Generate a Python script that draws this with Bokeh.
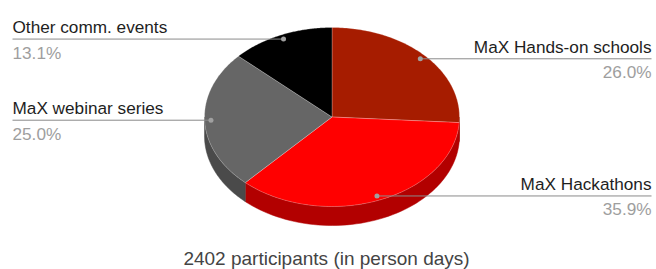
import math
from bokeh.plotting import figure
from bokeh.models import Range1d, ColumnDataSource
from bokeh.core.properties import value
from bokeh.embed import file_html
from bokeh.resources import INLINE

# ---- data ----
labels = ["MaX Hands-on schools", "MaX Hackathons", "MaX webinar series", "Other comm. events"]
shares = [26.0, 35.9, 25.0, 13.1]          # percent of person days
pct_labels = ["26.0%", "35.9%", "25.0%", "13.1%"]
title_text = "2402 participants (in person days)"

top_colors = ["#a61c00", "#ff0000", "#666666", "#000000"]
side_colors = ["#7a1400", "#b20000", "#4a4a4a", "#000000"]
label_side = ["right", "right", "left", "left"]

# ---- layout (image pixel coordinates) ----
cx, cy, rx, ry, depth = 331.5, 116.5, 127.5, 89.5, 19.0
dot_r = 0.95
left_x, right_x = 12, 651


def pt(theta_deg, r=1.0):
    t = math.radians(theta_deg)
    return cx + r * rx * math.sin(t), cy - r * ry * math.cos(t)


def arc(a1, a2, n=80):
    xs, ys = [], []
    for k in range(n + 1):
        x, y = pt(a1 + (a2 - a1) * k / n)
        xs.append(x)
        ys.append(y)
    return xs, ys


total = sum(shares)
starts, ends = [], []
acc = 0.0
for s in shares:
    starts.append(acc / total * 360.0)
    acc += s
    ends.append(acc / total * 360.0)

p = figure(width=656, height=269, output_backend="svg", toolbar_location=None,
           x_range=Range1d(0, 656), y_range=Range1d(269, 0),
           min_border=0)
p.axis.visible = False
p.grid.visible = False
p.outline_line_color = None
p.background_fill_color = "white"

# sides (front half only: 90..270 degrees)
side_xs, side_ys, side_c = [], [], []
for a1, a2, c in zip(starts, ends, side_colors):
    b1, b2 = max(a1, 90.0), min(a2, 270.0)
    if b2 > b1:
        xs, ys = arc(b1, b2, 60)
        side_xs.append(xs + xs[::-1])
        side_ys.append(ys + [y + depth for y in ys[::-1]])
        side_c.append(c)
p.patches(xs=side_xs, ys=side_ys, fill_color=side_c, line_color=side_c, line_width=0.5)

# top faces
top_xs, top_ys = [], []
for a1, a2 in zip(starts, ends):
    xs, ys = arc(a1, a2, 100)
    top_xs.append([cx] + xs)
    top_ys.append([cy] + ys)
p.patches(xs=top_xs, ys=top_ys, fill_color=top_colors, line_color="white",
          line_alpha=0.3, line_width=0.8)

# leader lines, dots, labels
dx, dy = [], []
seg_x0, seg_x1, seg_y = [], [], []
lab_x, lab_y, lab_t, lab_align = [], [], [], []
pct_x, pct_y = [], []
for a1, a2, lab, side, pl in zip(starts, ends, labels, label_side, pct_labels):
    x, y = pt((a1 + a2) / 2.0, dot_r)
    dx.append(x)
    dy.append(y)
    tx = right_x if side == "right" else left_x
    seg_x0.append(x)
    seg_x1.append(tx)
    seg_y.append(y)
    lab_x.append(tx)
    lab_y.append(y - 11.8)
    lab_t.append(lab)
    lab_align.append(side)
    pct_x.append(tx)
    pct_y.append(y + 13.5)

p.segment(x0=seg_x0, y0=seg_y, x1=seg_x1, y1=seg_y, line_color="#8a8a8a", line_width=1)
p.scatter(x=dx, y=dy, size=5, fill_color="#a0a0a0", line_color=None)

src = ColumnDataSource(dict(x=lab_x, y=lab_y, t=lab_t, a=lab_align, px=pct_x, py=pct_y, pt=pct_labels))
p.text(x="x", y="y", text="t", text_align="a", text_baseline="middle", source=src,
       text_font=value("Liberation Sans"), text_font_size="17.2px", text_color="#1e1e1e")
p.text(x="px", y="py", text="pt", text_align="a", text_baseline="middle", source=src,
       text_font=value("Liberation Sans"), text_font_size="17.2px", text_color="#9e9e9e")

p.text(x=[326], y=[257.5], text=[title_text], text_align="center", text_baseline="middle",
       text_font=value("Liberation Sans"), text_font_size="19px", text_color="#444444")

open("out.html", "w").write(file_html(p, INLINE))
